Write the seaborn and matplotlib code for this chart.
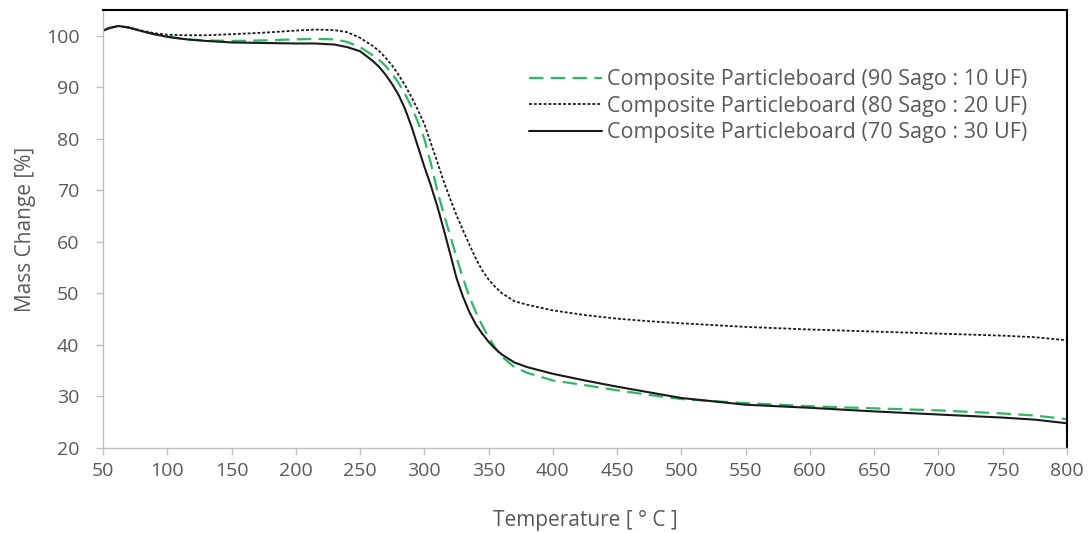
import matplotlib
matplotlib.use("Agg")
import matplotlib.pyplot as plt
import seaborn as sns

# ---- data ----
temperature = [50, 55, 62, 70, 80, 90, 100, 115, 130, 150, 175, 200, 215, 230, 240,
               250, 260, 265, 270, 275, 280, 285, 290, 295, 300, 305, 310, 315, 320,
               325, 330, 335, 340, 345, 350, 355, 360, 370, 380,
               400, 425, 450, 475, 500, 550, 600, 650, 700, 750, 775, 800]

mass_90_10 = [101.0, 101.5, 101.9, 101.6, 100.9, 100.3, 99.8, 99.3, 99.1, 99.0, 99.1, 99.3,
              99.4, 99.3, 98.8,
              97.8, 96.2, 95.3, 94.1, 92.6, 90.8, 88.7, 86.2, 83.3, 80.0, 75.3, 70.0, 65.5, 61.3,
              57.0, 53.0, 49.4, 46.4, 43.8, 41.5, 39.5, 37.8, 35.7, 34.6,
              33.1, 32.2, 31.2, 30.3, 29.5, 28.7, 28.1, 27.7, 27.3, 26.7, 26.3, 25.6]

mass_80_20 = [101.0, 101.5, 101.9, 101.6, 101.0, 100.5, 100.2, 100.1, 100.1, 100.3, 100.6,
              101.0, 101.2, 101.1, 100.7,
              99.6, 98.0, 97.0, 95.7, 94.2, 92.4, 90.4, 88.1, 85.6, 82.9, 79.2, 75.6, 71.8, 68.4,
              65.2, 62.3, 59.5, 56.8, 54.5, 52.7, 51.3, 50.1, 48.5, 47.8,
              46.7, 45.8, 45.1, 44.6, 44.2, 43.5, 43.0, 42.6, 42.2, 41.8, 41.5, 40.9]

mass_70_30 = [101.0, 101.5, 101.9, 101.6, 100.9, 100.3, 99.8, 99.3, 99.0, 98.7, 98.6, 98.5,
              98.5, 98.3, 97.8,
              97.0, 95.1, 93.9, 92.4, 90.6, 88.5, 85.8, 82.4, 78.5, 74.6, 71.0, 67.0, 62.5, 57.8,
              53.0, 49.4, 46.4, 44.0, 42.2, 40.6, 39.3, 38.2, 36.6, 35.7,
              34.4, 33.1, 31.9, 30.8, 29.7, 28.4, 27.8, 27.1, 26.5, 25.9, 25.5, 24.8]

labels = ["Composite Particleboard (90 Sago : 10 UF)",
          "Composite Particleboard (80 Sago : 20 UF)",
          "Composite Particleboard (70 Sago : 30 UF)"]

x_ticks = list(range(50, 801, 50))
y_ticks = list(range(20, 101, 10))

sns.set_theme(style="white")
plt.rcParams['font.family'] = ['Open Sans', 'DejaVu Sans']

fig = plt.figure(figsize=(10.91, 5.33), dpi=100)
ax = fig.add_axes([103 / 1091, 1 - 448 / 533, 964 / 1091, 438 / 533])

gray_txt = "#595959"

sns.lineplot(x=temperature, y=mass_90_10, ax=ax, color="#2EB865", linewidth=1.6,
             label=labels[0])
sns.lineplot(x=temperature, y=mass_80_20, ax=ax, color="#1a1a1a", linewidth=1.3,
             label=labels[1])
sns.lineplot(x=temperature, y=mass_70_30, ax=ax, color="#1a1a1a", linewidth=1.5,
             label=labels[2])

lines = ax.get_lines()
lines[0].set_dashes((6.5, 3.3))
lines[1].set_dashes((1.6, 1.1))

ax.set_xlim(50, 800)
ax.set_ylim(20, 105)
ax.set_xticks(x_ticks)
ax.set_yticks(y_ticks)
ax.tick_params(axis='both', colors="#BFBFBF", labelcolor=gray_txt, labelsize=14,
               direction='out', length=5, width=1, bottom=True, left=True)
ax.tick_params(axis='x', pad=5)
ax.tick_params(axis='y', pad=12)

for s in ['left', 'bottom']:
    ax.spines[s].set_color("#BFBFBF")
    ax.spines[s].set_linewidth(1.0)
for s in ['top', 'right']:
    ax.spines[s].set_color("#000000")
    ax.spines[s].set_linewidth(1.5)

ax.set_xlabel("Temperature [ ° C ]", color=gray_txt, fontsize=15, labelpad=22)
ax.set_ylabel("Mass Change [%]", color=gray_txt, fontsize=15, labelpad=7)

leg = ax.legend(loc='upper right', bbox_to_anchor=(0.979, 0.909), frameon=False,
                fontsize=15.5, handlelength=3.4, handletextpad=0.23, labelspacing=0.26)
for t in leg.get_texts():
    t.set_color(gray_txt)

fig.savefig("out.png", dpi=100)
